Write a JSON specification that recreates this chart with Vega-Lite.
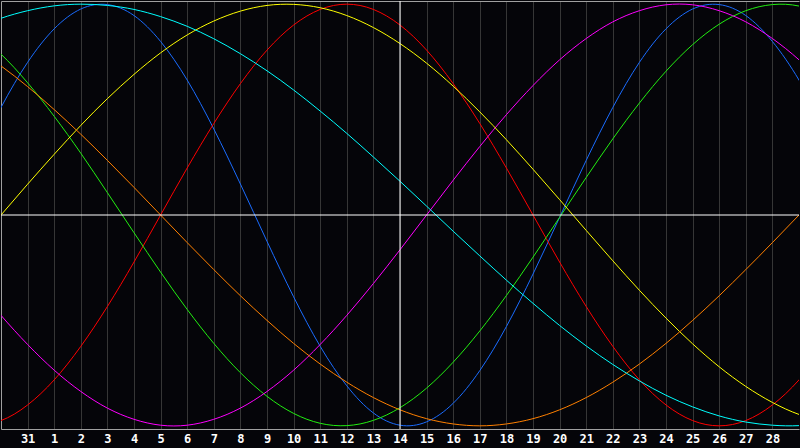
{
  "$schema": "https://vega.github.io/schema/vega-lite/v6.json",
  "description": "Biorhythm cycles, 31 Jan to 28 Feb, with today (14) marked.",
  "width": 800,
  "height": 448,
  "autosize": {"type": "fit", "contains": "padding"},
  "padding": {"left": 0, "top": 0, "right": 0, "bottom": 4},
  "background": "#050509",
  "config": {
    "view": {"stroke": null},
    "axis": {"title": null, "ticks": false, "grid": false, "labels": false, "domainColor": "#a0a0a0", "domainWidth": 1}
  },
  "resolve": {"axis": {"x": "independent"}},
  "layer": [
    {
      "data": {"values": [
        {"s": "physical", "k": -1, "v": 0.259}, {"s": "physical", "k": 0, "v": 0.51}, {"s": "physical", "k": 1, "v": 0.724},
        {"s": "physical", "k": 2, "v": 0.883}, {"s": "physical", "k": 3, "v": 0.977}, {"s": "physical", "k": 4, "v": 0.998},
        {"s": "physical", "k": 5, "v": 0.946}, {"s": "physical", "k": 6, "v": 0.823}, {"s": "physical", "k": 7, "v": 0.64},
        {"s": "physical", "k": 8, "v": 0.408}, {"s": "physical", "k": 9, "v": 0.147}, {"s": "physical", "k": 10, "v": -0.125},
        {"s": "physical", "k": 11, "v": -0.388}, {"s": "physical", "k": 12, "v": -0.623}, {"s": "physical", "k": 13, "v": -0.81},
        {"s": "physical", "k": 14, "v": -0.939}, {"s": "physical", "k": 15, "v": -0.997}, {"s": "physical", "k": 16, "v": -0.981},
        {"s": "physical", "k": 17, "v": -0.893}, {"s": "physical", "k": 18, "v": -0.738}, {"s": "physical", "k": 19, "v": -0.529},
        {"s": "physical", "k": 20, "v": -0.28}, {"s": "physical", "k": 21, "v": -0.011}, {"s": "physical", "k": 22, "v": 0.259},
        {"s": "physical", "k": 23, "v": 0.51}, {"s": "physical", "k": 24, "v": 0.724}, {"s": "physical", "k": 25, "v": 0.883},
        {"s": "physical", "k": 26, "v": 0.977}, {"s": "physical", "k": 27, "v": 0.998}, {"s": "physical", "k": 28, "v": 0.946},
        {"s": "physical", "k": 29, "v": 0.823}, {"s": "physical", "k": 30, "v": 0.64}, {"s": "physical", "k": 31, "v": 0.408},

        {"s": "emotional", "k": -1, "v": -1.0}, {"s": "emotional", "k": 0, "v": -0.975}, {"s": "emotional", "k": 1, "v": -0.901},
        {"s": "emotional", "k": 2, "v": -0.782}, {"s": "emotional", "k": 3, "v": -0.623}, {"s": "emotional", "k": 4, "v": -0.434},
        {"s": "emotional", "k": 5, "v": -0.223}, {"s": "emotional", "k": 6, "v": 0.0}, {"s": "emotional", "k": 7, "v": 0.223},
        {"s": "emotional", "k": 8, "v": 0.434}, {"s": "emotional", "k": 9, "v": 0.623}, {"s": "emotional", "k": 10, "v": 0.782},
        {"s": "emotional", "k": 11, "v": 0.901}, {"s": "emotional", "k": 12, "v": 0.975}, {"s": "emotional", "k": 13, "v": 1.0},
        {"s": "emotional", "k": 14, "v": 0.975}, {"s": "emotional", "k": 15, "v": 0.901}, {"s": "emotional", "k": 16, "v": 0.782},
        {"s": "emotional", "k": 17, "v": 0.623}, {"s": "emotional", "k": 18, "v": 0.434}, {"s": "emotional", "k": 19, "v": 0.223},
        {"s": "emotional", "k": 20, "v": 0.0}, {"s": "emotional", "k": 21, "v": -0.223}, {"s": "emotional", "k": 22, "v": -0.434},
        {"s": "emotional", "k": 23, "v": -0.623}, {"s": "emotional", "k": 24, "v": -0.782}, {"s": "emotional", "k": 25, "v": -0.901},
        {"s": "emotional", "k": 26, "v": -0.975}, {"s": "emotional", "k": 27, "v": -1.0}, {"s": "emotional", "k": 28, "v": -0.975},
        {"s": "emotional", "k": 29, "v": -0.901}, {"s": "emotional", "k": 30, "v": -0.782}, {"s": "emotional", "k": 31, "v": -0.623},

        {"s": "intellectual", "k": -1, "v": 0.872}, {"s": "intellectual", "k": 0, "v": 0.763}, {"s": "intellectual", "k": 1, "v": 0.627},
        {"s": "intellectual", "k": 2, "v": 0.468}, {"s": "intellectual", "k": 3, "v": 0.293}, {"s": "intellectual", "k": 4, "v": 0.106},
        {"s": "intellectual", "k": 5, "v": -0.084}, {"s": "intellectual", "k": 6, "v": -0.271}, {"s": "intellectual", "k": 7, "v": -0.448},
        {"s": "intellectual", "k": 8, "v": -0.609}, {"s": "intellectual", "k": 9, "v": -0.748}, {"s": "intellectual", "k": 10, "v": -0.86},
        {"s": "intellectual", "k": 11, "v": -0.941}, {"s": "intellectual", "k": 12, "v": -0.988}, {"s": "intellectual", "k": 13, "v": -0.999},
        {"s": "intellectual", "k": 14, "v": -0.974}, {"s": "intellectual", "k": 15, "v": -0.914}, {"s": "intellectual", "k": 16, "v": -0.821},
        {"s": "intellectual", "k": 17, "v": -0.698}, {"s": "intellectual", "k": 18, "v": -0.55}, {"s": "intellectual", "k": 19, "v": -0.382},
        {"s": "intellectual", "k": 20, "v": -0.2}, {"s": "intellectual", "k": 21, "v": -0.011}, {"s": "intellectual", "k": 22, "v": 0.178},
        {"s": "intellectual", "k": 23, "v": 0.361}, {"s": "intellectual", "k": 24, "v": 0.531}, {"s": "intellectual", "k": 25, "v": 0.682},
        {"s": "intellectual", "k": 26, "v": 0.808}, {"s": "intellectual", "k": 27, "v": 0.905}, {"s": "intellectual", "k": 28, "v": 0.969},
        {"s": "intellectual", "k": 29, "v": 0.998}, {"s": "intellectual", "k": 30, "v": 0.991}, {"s": "intellectual", "k": 31, "v": 0.949},

        {"s": "intuitive", "k": -1, "v": -0.325}, {"s": "intuitive", "k": 0, "v": -0.476}, {"s": "intuitive", "k": 1, "v": -0.614},
        {"s": "intuitive", "k": 2, "v": -0.736}, {"s": "intuitive", "k": 3, "v": -0.837}, {"s": "intuitive", "k": 4, "v": -0.916},
        {"s": "intuitive", "k": 5, "v": -0.969}, {"s": "intuitive", "k": 6, "v": -0.997}, {"s": "intuitive", "k": 7, "v": -0.997},
        {"s": "intuitive", "k": 8, "v": -0.969}, {"s": "intuitive", "k": 9, "v": -0.916}, {"s": "intuitive", "k": 10, "v": -0.837},
        {"s": "intuitive", "k": 11, "v": -0.736}, {"s": "intuitive", "k": 12, "v": -0.614}, {"s": "intuitive", "k": 13, "v": -0.476},
        {"s": "intuitive", "k": 14, "v": -0.325}, {"s": "intuitive", "k": 15, "v": -0.165}, {"s": "intuitive", "k": 16, "v": 0.0},
        {"s": "intuitive", "k": 17, "v": 0.165}, {"s": "intuitive", "k": 18, "v": 0.325}, {"s": "intuitive", "k": 19, "v": 0.476},
        {"s": "intuitive", "k": 20, "v": 0.614}, {"s": "intuitive", "k": 21, "v": 0.736}, {"s": "intuitive", "k": 22, "v": 0.837},
        {"s": "intuitive", "k": 23, "v": 0.916}, {"s": "intuitive", "k": 24, "v": 0.969}, {"s": "intuitive", "k": 25, "v": 0.997},
        {"s": "intuitive", "k": 26, "v": 0.997}, {"s": "intuitive", "k": 27, "v": 0.969}, {"s": "intuitive", "k": 28, "v": 0.916},
        {"s": "intuitive", "k": 29, "v": 0.837}, {"s": "intuitive", "k": 30, "v": 0.736}, {"s": "intuitive", "k": 31, "v": 0.614},

        {"s": "aesthetic", "k": -1, "v": -0.146}, {"s": "aesthetic", "k": 0, "v": 0.0}, {"s": "aesthetic", "k": 1, "v": 0.146},
        {"s": "aesthetic", "k": 2, "v": 0.288}, {"s": "aesthetic", "k": 3, "v": 0.425}, {"s": "aesthetic", "k": 4, "v": 0.552},
        {"s": "aesthetic", "k": 5, "v": 0.667}, {"s": "aesthetic", "k": 6, "v": 0.769}, {"s": "aesthetic", "k": 7, "v": 0.854},
        {"s": "aesthetic", "k": 8, "v": 0.92}, {"s": "aesthetic", "k": 9, "v": 0.967}, {"s": "aesthetic", "k": 10, "v": 0.994},
        {"s": "aesthetic", "k": 11, "v": 0.999}, {"s": "aesthetic", "k": 12, "v": 0.983}, {"s": "aesthetic", "k": 13, "v": 0.946},
        {"s": "aesthetic", "k": 14, "v": 0.889}, {"s": "aesthetic", "k": 15, "v": 0.813}, {"s": "aesthetic", "k": 16, "v": 0.72},
        {"s": "aesthetic", "k": 17, "v": 0.611}, {"s": "aesthetic", "k": 18, "v": 0.489}, {"s": "aesthetic", "k": 19, "v": 0.357},
        {"s": "aesthetic", "k": 20, "v": 0.217}, {"s": "aesthetic", "k": 21, "v": 0.073}, {"s": "aesthetic", "k": 22, "v": -0.073},
        {"s": "aesthetic", "k": 23, "v": -0.217}, {"s": "aesthetic", "k": 24, "v": -0.357}, {"s": "aesthetic", "k": 25, "v": -0.489},
        {"s": "aesthetic", "k": 26, "v": -0.611}, {"s": "aesthetic", "k": 27, "v": -0.72}, {"s": "aesthetic", "k": 28, "v": -0.813},
        {"s": "aesthetic", "k": 29, "v": -0.889}, {"s": "aesthetic", "k": 30, "v": -0.946}, {"s": "aesthetic", "k": 31, "v": -0.983},

        {"s": "awareness", "k": -1, "v": 0.793}, {"s": "awareness", "k": 0, "v": 0.707}, {"s": "awareness", "k": 1, "v": 0.609},
        {"s": "awareness", "k": 2, "v": 0.5}, {"s": "awareness", "k": 3, "v": 0.383}, {"s": "awareness", "k": 4, "v": 0.259},
        {"s": "awareness", "k": 5, "v": 0.131}, {"s": "awareness", "k": 6, "v": 0.0}, {"s": "awareness", "k": 7, "v": -0.131},
        {"s": "awareness", "k": 8, "v": -0.259}, {"s": "awareness", "k": 9, "v": -0.383}, {"s": "awareness", "k": 10, "v": -0.5},
        {"s": "awareness", "k": 11, "v": -0.609}, {"s": "awareness", "k": 12, "v": -0.707}, {"s": "awareness", "k": 13, "v": -0.793},
        {"s": "awareness", "k": 14, "v": -0.866}, {"s": "awareness", "k": 15, "v": -0.924}, {"s": "awareness", "k": 16, "v": -0.966},
        {"s": "awareness", "k": 17, "v": -0.991}, {"s": "awareness", "k": 18, "v": -1.0}, {"s": "awareness", "k": 19, "v": -0.991},
        {"s": "awareness", "k": 20, "v": -0.966}, {"s": "awareness", "k": 21, "v": -0.924}, {"s": "awareness", "k": 22, "v": -0.866},
        {"s": "awareness", "k": 23, "v": -0.793}, {"s": "awareness", "k": 24, "v": -0.707}, {"s": "awareness", "k": 25, "v": -0.609},
        {"s": "awareness", "k": 26, "v": -0.5}, {"s": "awareness", "k": 27, "v": -0.383}, {"s": "awareness", "k": 28, "v": -0.259},
        {"s": "awareness", "k": 29, "v": -0.131}, {"s": "awareness", "k": 30, "v": 0.0}, {"s": "awareness", "k": 31, "v": 0.131},

        {"s": "spiritual", "k": -1, "v": 0.884}, {"s": "spiritual", "k": 0, "v": 0.933}, {"s": "spiritual", "k": 1, "v": 0.969},
        {"s": "spiritual", "k": 2, "v": 0.992}, {"s": "spiritual", "k": 3, "v": 1.0}, {"s": "spiritual", "k": 4, "v": 0.994},
        {"s": "spiritual", "k": 5, "v": 0.975}, {"s": "spiritual", "k": 6, "v": 0.941}, {"s": "spiritual", "k": 7, "v": 0.895},
        {"s": "spiritual", "k": 8, "v": 0.836}, {"s": "spiritual", "k": 9, "v": 0.765}, {"s": "spiritual", "k": 10, "v": 0.684},
        {"s": "spiritual", "k": 11, "v": 0.593}, {"s": "spiritual", "k": 12, "v": 0.493}, {"s": "spiritual", "k": 13, "v": 0.387},
        {"s": "spiritual", "k": 14, "v": 0.275}, {"s": "spiritual", "k": 15, "v": 0.16}, {"s": "spiritual", "k": 16, "v": 0.042},
        {"s": "spiritual", "k": 17, "v": -0.077}, {"s": "spiritual", "k": 18, "v": -0.194}, {"s": "spiritual", "k": 19, "v": -0.309},
        {"s": "spiritual", "k": 20, "v": -0.419}, {"s": "spiritual", "k": 21, "v": -0.524}, {"s": "spiritual", "k": 22, "v": -0.621},
        {"s": "spiritual", "k": 23, "v": -0.709}, {"s": "spiritual", "k": 24, "v": -0.787}, {"s": "spiritual", "k": 25, "v": -0.855},
        {"s": "spiritual", "k": 26, "v": -0.91}, {"s": "spiritual", "k": 27, "v": -0.953}, {"s": "spiritual", "k": 28, "v": -0.982},
        {"s": "spiritual", "k": 29, "v": -0.997}, {"s": "spiritual", "k": 30, "v": -0.999}, {"s": "spiritual", "k": 31, "v": -0.986}
      ]},
      "mark": {"type": "line", "interpolate": "natural", "strokeWidth": 1, "clip": true},
      "encoding": {
        "x": {
          "field": "k", "type": "quantitative",
          "scale": {"domain": [0, 30], "nice": false, "zero": false},
          "axis": {
            "orient": "bottom",
            "values": [1, 2, 3, 4, 5, 6, 7, 8, 9, 10, 11, 12, 13, 14, 15, 16, 17, 18, 19, 20, 21, 22, 23, 24, 25, 26, 27, 28, 29],
            "labelExpr": "datum.value == 1 ? '31' : '' + (datum.value - 1)",
            "labels": true, "grid": true, "gridColor": "#363636", "gridWidth": 1,
            "labelColor": "#ffffff", "labelFont": "DejaVu Sans Mono", "labelFontWeight": "bold",
            "labelFontSize": 12, "labelPadding": 4, "labelFlush": false, "labelOverlap": false
          }
        },
        "y": {
          "field": "v", "type": "quantitative",
          "scale": {"domain": [-1.015, 1.015], "nice": false, "zero": false},
          "axis": {"orient": "left"}
        },
        "color": {
          "field": "s", "type": "nominal", "legend": null,
          "scale": {
            "domain": ["physical", "emotional", "intellectual", "intuitive", "aesthetic", "awareness", "spiritual"],
            "range": ["#1a6cff", "#ff0000", "#22ee11", "#ff00ff", "#ffff00", "#ff8000", "#00ffff"]
          }
        }
      }
    },
    {
      "data": {"values": [{"today": 15}]},
      "mark": {"type": "rule", "color": "#ffffff", "strokeWidth": 1},
      "encoding": {
        "x": {"field": "today", "type": "quantitative", "axis": {"orient": "top"}}
      }
    },
    {
      "data": {"values": [{"level": 0}]},
      "mark": {"type": "rule", "color": "#ffffff", "strokeWidth": 1},
      "encoding": {
        "y": {"field": "level", "type": "quantitative"}
      }
    }
  ]
}
